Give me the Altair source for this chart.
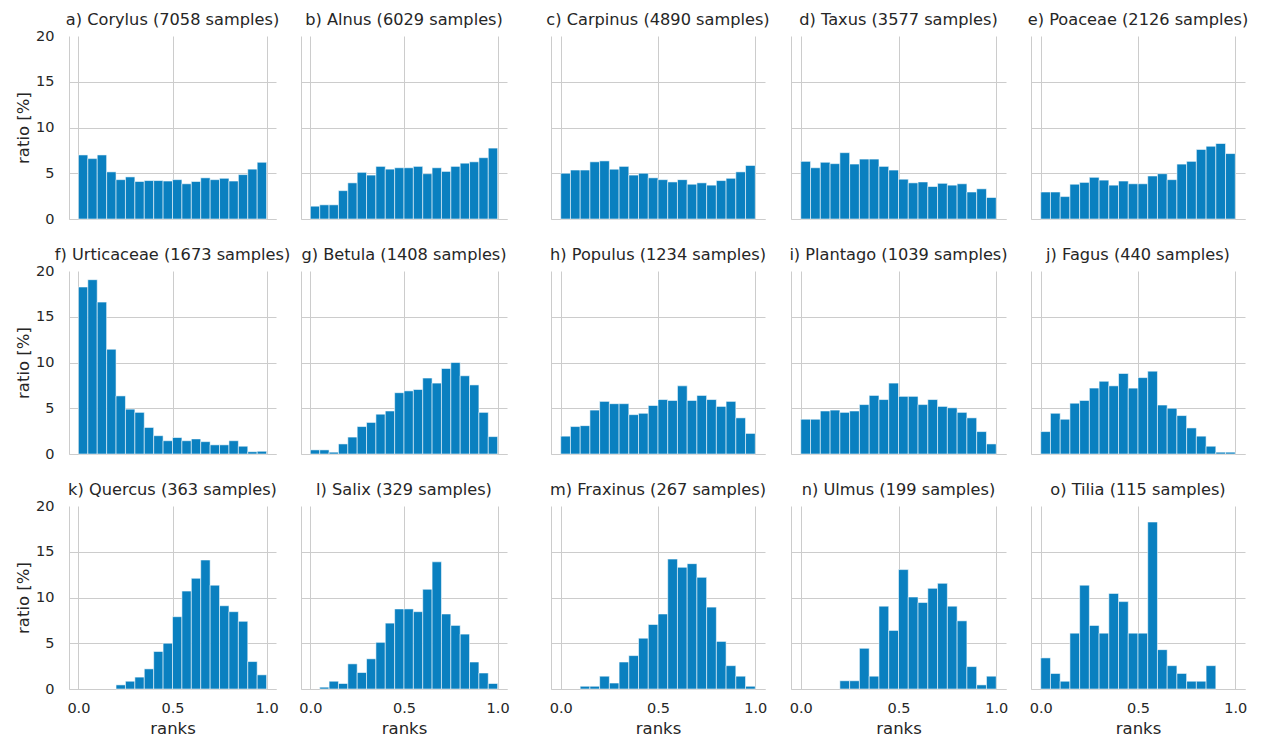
import altair as alt
import pandas as pd

titles = [
    "a) Corylus (7058 samples)", "b) Alnus (6029 samples)", "c) Carpinus (4890 samples)",
    "d) Taxus (3577 samples)", "e) Poaceae (2126 samples)",
    "f) Urticaceae (1673 samples)", "g) Betula (1408 samples)", "h) Populus (1234 samples)",
    "i) Plantago (1039 samples)", "j) Fagus (440 samples)",
    "k) Quercus (363 samples)", "l) Salix (329 samples)", "m) Fraxinus (267 samples)",
    "n) Ulmus (199 samples)", "o) Tilia (115 samples)",
]

bin_lo = [0.0, 0.05, 0.1, 0.15, 0.2, 0.25, 0.3, 0.35, 0.4, 0.45,
          0.5, 0.55, 0.6, 0.65, 0.7, 0.75, 0.8, 0.85, 0.9, 0.95]
bin_hi = [0.05, 0.1, 0.15, 0.2, 0.25, 0.3, 0.35, 0.4, 0.45, 0.5,
          0.55, 0.6, 0.65, 0.7, 0.75, 0.8, 0.85, 0.9, 0.95, 1.0]

corylus = [7.0, 6.6, 7.0, 5.15, 4.3, 4.6, 4.1, 4.2, 4.2, 4.15, 4.3, 3.85, 4.1, 4.5, 4.3, 4.45, 4.15, 4.85, 5.45, 6.2]
alnus = [1.4, 1.55, 1.55, 3.1, 3.95, 5.1, 4.8, 5.75, 5.45, 5.6, 5.6, 5.75, 4.95, 5.6, 5.2, 5.75, 6.1, 6.25, 6.7, 7.75]
carpinus = [5.0, 5.35, 5.35, 6.25, 6.35, 5.45, 5.75, 4.8, 5.0, 4.5, 4.3, 4.05, 4.3, 3.8, 3.95, 3.7, 4.2, 4.45, 5.15, 5.85]
taxus = [6.3, 5.6, 6.2, 6.05, 7.25, 6.0, 6.55, 6.55, 5.75, 5.35, 4.35, 3.95, 4.05, 3.55, 3.9, 3.7, 3.85, 2.95, 3.3, 2.35]
poaceae = [2.95, 2.95, 2.45, 3.8, 4.0, 4.55, 4.25, 3.7, 4.15, 3.85, 3.85, 4.7, 4.95, 4.3, 6.0, 6.3, 7.6, 7.95, 8.25, 7.15]
urticaceae = [18.25, 19.05, 16.6, 11.45, 6.35, 4.9, 4.55, 2.9, 2.0, 1.45, 1.8, 1.45, 1.65, 1.35, 1.0, 1.0, 1.45, 0.85, 0.25, 0.3]
betula = [0.45, 0.45, 0.2, 1.1, 1.85, 3.0, 3.45, 4.35, 4.7, 6.7, 6.9, 7.05, 8.3, 7.75, 9.35, 10.0, 8.55, 7.55, 4.55, 1.9]
populus = [1.95, 3.0, 3.1, 4.8, 5.75, 5.5, 5.5, 4.3, 4.45, 5.3, 5.95, 5.85, 7.45, 5.85, 6.4, 5.95, 5.2, 5.75, 3.95, 2.25]
plantago = [3.8, 3.8, 4.7, 4.8, 4.55, 4.7, 5.4, 6.4, 5.95, 7.75, 6.3, 6.3, 5.4, 5.95, 5.2, 5.05, 4.55, 3.95, 2.45, 1.1]
fagus = [2.45, 4.45, 3.8, 5.55, 5.85, 7.2, 7.95, 7.45, 8.8, 7.2, 8.35, 9.05, 5.35, 5.0, 4.2, 2.85, 1.95, 0.85, 0.2, 0.2]
quercus = [0, 0, 0, 0, 0.45, 0.85, 1.3, 2.2, 4.1, 5.0, 7.9, 10.7, 12.1, 14.1, 11.35, 9.1, 8.45, 7.4, 3.0, 1.55]
salix = [0, 0.2, 0.85, 0.6, 2.75, 1.8, 3.3, 5.1, 7.2, 8.75, 8.75, 8.45, 10.9, 13.9, 8.2, 6.95, 6.0, 2.95, 1.75, 0.6]
fraxinus = [0, 0, 0.3, 0.3, 1.4, 0.65, 2.95, 3.65, 5.55, 7.05, 8.2, 14.2, 13.3, 13.7, 12.2, 8.95, 5.2, 2.55, 1.4, 0.3]
ulmus = [0, 0, 0, 0, 0.9, 0.9, 4.45, 1.4, 9.05, 6.4, 13.05, 10.05, 9.45, 11.0, 11.55, 9.05, 7.45, 2.45, 0.45, 1.4]
tilia = [3.4, 1.7, 0.85, 6.1, 11.35, 6.95, 6.1, 10.45, 9.55, 6.1, 6.1, 18.25, 4.3, 2.55, 1.7, 0.85, 0.85, 2.55, 0, 0]

series = [corylus, alnus, carpinus, taxus, poaceae,
          urticaceae, betula, populus, plantago, fagus,
          quercus, salix, fraxinus, ulmus, tilia]

x_ticks = [0.0, 0.5, 1.0]
y_ticks = [0, 5, 10, 15, 20]

BLUE = "#0a80c0"
TEXT = "#262626"
GRID = "#cccccc"
H = 183
widths = [207, 206, 214, 215, 214]
gaps = [25, 44, 26, 25]


def panel(k):
    r, c = divmod(k, 5)
    bottom = r == 2
    left = c == 0
    df = pd.DataFrame({"lo": bin_lo, "hi": bin_hi, "ratio": series[k]})
    xaxis = alt.Axis(values=x_ticks, format=".1f", labels=bottom,
                     title="ranks" if bottom else "", grid=True, ticks=False,
                     tickSize=0, labelPadding=12, titlePadding=6, labelFlush=False)
    yaxis = alt.Axis(values=y_ticks, labels=left, title="ratio [%]" if left else "",
                     grid=True, ticks=False, tickSize=0, labelPadding=15, titlePadding=4,
                     labelFlush=False,
                     gridOpacity={"condition": {"test": "datum.value >= 20", "value": 0}, "value": 1})
    title = alt.TitleParams(titles[k], offset=0 if left else 8)
    return (
        alt.Chart(df)
        .transform_filter("datum.ratio > 0")
        .mark_bar(color=BLUE, stroke="white", strokeWidth=1, strokeOpacity=0.55)
        .encode(
            x=alt.X("lo:Q", scale=alt.Scale(domain=[-0.05, 1.05], nice=False, zero=False), axis=xaxis),
            x2="hi:Q",
            y=alt.Y("ratio:Q", scale=alt.Scale(domain=[0, 20], nice=False), axis=yaxis),
            y2=alt.datum(0),
        )
        .properties(width=widths[c], height=H, title=title)
    )


def spacer(w):
    return (
        alt.Chart(pd.DataFrame({"z": [0]}))
        .mark_rule(opacity=0)
        .encode(x=alt.value(0), y=alt.value(0))
        .properties(width=w, height=H)
    )


cells = []
for r in range(3):
    for c in range(5):
        cells.append(panel(r * 5 + c))
        if c < 4:
            cells.append(spacer(gaps[c]))

chart = (
    alt.concat(*cells, columns=9, spacing={"row": 52, "column": 0}, align="none", bounds="flush")
    .properties(padding={"left": 7, "top": 3, "right": 5, "bottom": 0})
    .configure_view(stroke=None)
    .configure_axis(
        gridColor=GRID, gridWidth=1, domainColor=GRID, domainWidth=1,
        labelFont="DejaVu Sans", titleFont="DejaVu Sans",
        labelColor=TEXT, titleColor=TEXT, labelFontSize=14.5, titleFontSize=16.5,
        titleFontWeight="normal",
    )
    .configure_title(font="DejaVu Sans", fontSize=16.2, fontWeight="normal", color=TEXT,
                     anchor="middle", baseline="alphabetic", frame="group")
)

chart.save("out.html", embed_options={"renderer": "svg", "actions": False})
